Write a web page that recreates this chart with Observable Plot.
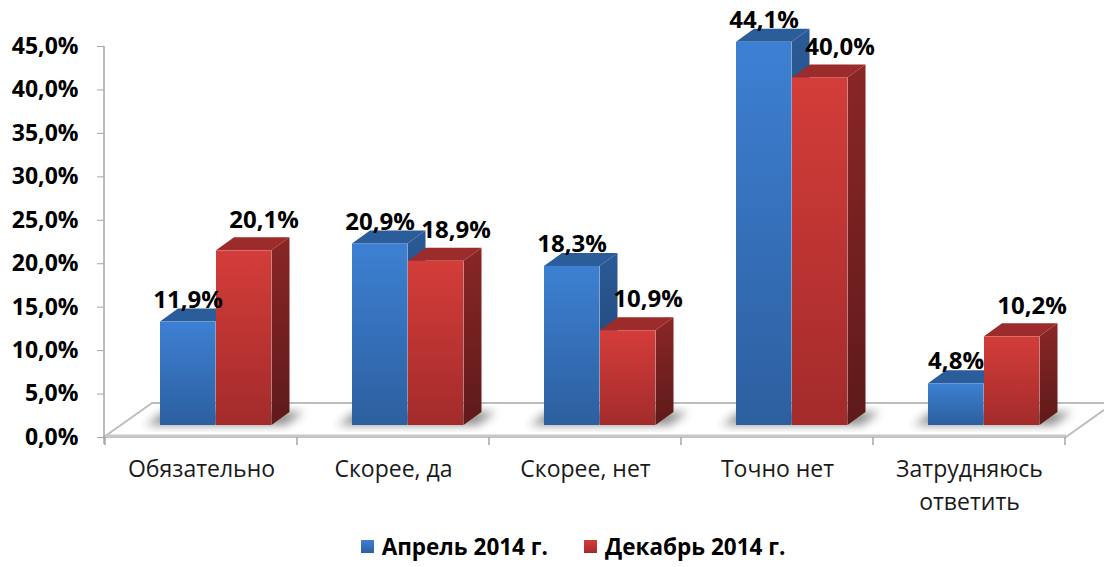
<!DOCTYPE html>
<html><head><meta charset="utf-8">
<script src="https://cdn.jsdelivr.net/npm/d3@7"></script>
<script src="https://cdn.jsdelivr.net/npm/@observablehq/plot@0.6"></script>
<style>
body{margin:0;background:#fff;font-family:"Open Sans",sans-serif;}
#chart svg{display:block}
.legend{display:flex;justify-content:center;align-items:center;height:42px;padding-left:42px;font-weight:bold;font-size:22.5px;color:#000;font-family:"Open Sans",sans-serif}
.legend .item{display:flex;align-items:center;margin:0 18px}
.legend .sw{display:inline-block;width:13px;height:13px;margin-right:8px}
</style></head><body>
<div id="chart"></div>
<div class="legend" id="legend"></div>
<script>
// ---- data ----
const categories = ["Обязательно", "Скорее, да", "Скорее, нет", "Точно нет", "Затрудняюсь ответить"];
const april = [11.9, 20.9, 18.3, 44.1, 4.8];
const december = [20.1, 18.9, 10.9, 40.0, 10.2];
const seriesNames = ["Апрель 2014 г.", "Декабрь 2014 г."];
const yTicks = [0, 5, 10, 15, 20, 25, 30, 35, 40, 45];

const rows = categories.flatMap((c, i) => [
  {category: c, series: seriesNames[0], value: april[i]},
  {category: c, series: seriesNames[1], value: december[i]}
]);

// ---- layout / style ----
const W = 1104, H = 525;
const M = {top: 46, right: 38, bottom: 88, left: 104};
const bw = (W - M.left - M.right) / categories.length;
const geo = {left: [55, 111], barW: 55.5, dX: 18, dY: 13, lift: 12, floorX: 48, floorY: 34};
const pal = [
  {front: ["#3d80d3", "#2d5f9f"], side: ["#2a5a96", "#213f6c"], top: "#2b5d9b"},
  {front: ["#d43d39", "#a32b2b"], side: ["#8a2626", "#5e1a1a"], top: "#9c2b2b"}
];
const fmtPct = v => v.toFixed(1).replace(".", ",") + "%";

function defs() {
  const d = d3.create("svg:defs");
  pal.forEach((p, i) => {
    for (const [name, stops] of [["front", p.front], ["side", p.side]]) {
      const g = d.append("linearGradient").attr("id", `g${name}${i}`).attr("x1", 0).attr("y1", 0).attr("x2", 0).attr("y2", 1);
      g.append("stop").attr("offset", "0%").attr("stop-color", stops[0]);
      g.append("stop").attr("offset", "100%").attr("stop-color", stops[1]);
    }
  });
  const f = d.append("filter").attr("id", "blur").attr("x", "-50%").attr("y", "-50%").attr("width", "200%").attr("height", "200%");
  f.append("feGaussianBlur").attr("stdDeviation", 5);
  return d.node();
}

function floor(index, scales, values, dims) {
  const x0 = dims.marginLeft, x1 = dims.width - dims.marginRight, y0 = scales.y(0);
  const g = d3.create("svg:g");
  const pts = [[x0, y0], [x1, y0], [x1 + geo.floorX, y0 - geo.floorY], [x0 + geo.floorX, y0 - geo.floorY]];
  g.append("polygon").attr("points", pts.join(" ")).attr("fill", "#fff").attr("stroke", "#bdbdbd").attr("stroke-width", 2).attr("stroke-linejoin", "round");
  g.append("line").attr("x1", x0).attr("x2", x1).attr("y1", y0 - 1).attr("y2", y0 - 1).attr("stroke", "#c8c8c8").attr("stroke-width", 3);
  // y axis line
  g.append("line").attr("x1", x0).attr("x2", x0).attr("y1", scales.y(yTicks[yTicks.length - 1])).attr("y2", y0 + 7).attr("stroke", "#a6a6a6").attr("stroke-width", 1.5);
  // category boundary ticks
  const xs = categories.map(c => scales.x(c)).concat([scales.x(categories[categories.length - 1]) + scales.x.bandwidth()]);
  for (const x of xs) g.append("line").attr("x1", x).attr("x2", x).attr("y1", y0).attr("y2", y0 + 8).attr("stroke", "#a6a6a6").attr("stroke-width", 1.5);
  return g.node();
}

function shadows(index, scales) {
  const g = d3.create("svg:g").attr("filter", "url(#blur)");
  const yb = scales.y(0) - geo.lift;
  for (const c of categories) {
    const xl = scales.x(c) + geo.left[0] - 14, xr = scales.x(c) + geo.left[1] + geo.barW + geo.dX + 14;
    g.append("polygon")
      .attr("points", [[xl, yb], [xr - geo.dX, yb], [xr, yb - geo.dY], [xl + geo.dX, yb - geo.dY]].join(" "))
      .attr("fill", "#000").attr("fill-opacity", 0.45);
  }
  return g.node();
}

function faces(s) {
  return (index, scales) => {
    const g = d3.create("svg:g");
    const yb = scales.y(0) - geo.lift;
    for (const r of rows.filter(r => r.series === seriesNames[s])) {
      const xl = scales.x(r.category) + geo.left[s], xr = xl + geo.barW, yt = scales.y(r.value) - geo.lift;
      g.append("polygon").attr("points", [[xr, yt], [xr + geo.dX, yt - geo.dY], [xr + geo.dX, yb - geo.dY], [xr, yb]].join(" "))
        .attr("fill", `url(#gside${s})`);
      g.append("polygon").attr("points", [[xl, yt], [xr, yt], [xr + geo.dX, yt - geo.dY], [xl + geo.dX, yt - geo.dY]].join(" "))
        .attr("fill", pal[s].top);
    }
    return g.node();
  };
}

function front(s) {
  return Plot.barY(rows.filter(r => r.series === seriesNames[s]), {
    x: "category", y: "value", fill: `url(#gfront${s})`,
    insetLeft: geo.left[s], insetRight: bw - geo.left[s] - geo.barW, dy: -geo.lift
  });
}

const labelOff = [{dx: geo.left[0] + geo.barW / 2 - bw / 2, dy: -geo.lift - 22}, {dx: geo.left[1] + geo.barW / 2 - bw / 2 + 20, dy: -geo.lift - 31}];
function labels(s) {
  return Plot.text(rows.filter(r => r.series === seriesNames[s]), {
    x: "category", y: "value", text: d => fmtPct(d.value),
    dx: labelOff[s].dx, dy: labelOff[s].dy, fontSize: 24, fontWeight: "bold", fill: "#000"
  });
}

const chart = Plot.plot({
  width: W, height: H,
  marginTop: M.top, marginRight: M.right, marginBottom: M.bottom, marginLeft: M.left,
  style: {fontFamily: "'Open Sans', sans-serif", background: "#fff", overflow: "visible"},
  x: {domain: categories, padding: 0, axis: null},
  y: {domain: [0, 45], axis: null},
  marks: [
    defs,
    floor,
    shadows,
    Plot.axisY(yTicks, {tickFormat: fmtPct, tickSize: 7, tickPadding: 19, fontSize: 23, fontWeight: "bold", stroke: "#a6a6a6", fill: "#000", label: null}),
    Plot.axisX(categories, {tickSize: 0, tickPadding: 17, fontSize: 23, lineHeight: 1.4, fill: "#1a1a1a",
      tickFormat: d => d.length > 14 ? d.replace(" ", "\n") : d, label: null}),
    faces(0), front(0),
    faces(1), front(1),
    labels(0), labels(1)
  ]
});
document.getElementById("chart").appendChild(chart);

const legend = d3.select("#legend");
seriesNames.forEach((n, i) => {
  const it = legend.append("div").attr("class", "item");
  it.append("span").attr("class", "sw").style("background", `linear-gradient(${pal[i].front[0]}, ${pal[i].front[1]})`);
  it.append("span").text(n);
});
</script>
</body></html>
